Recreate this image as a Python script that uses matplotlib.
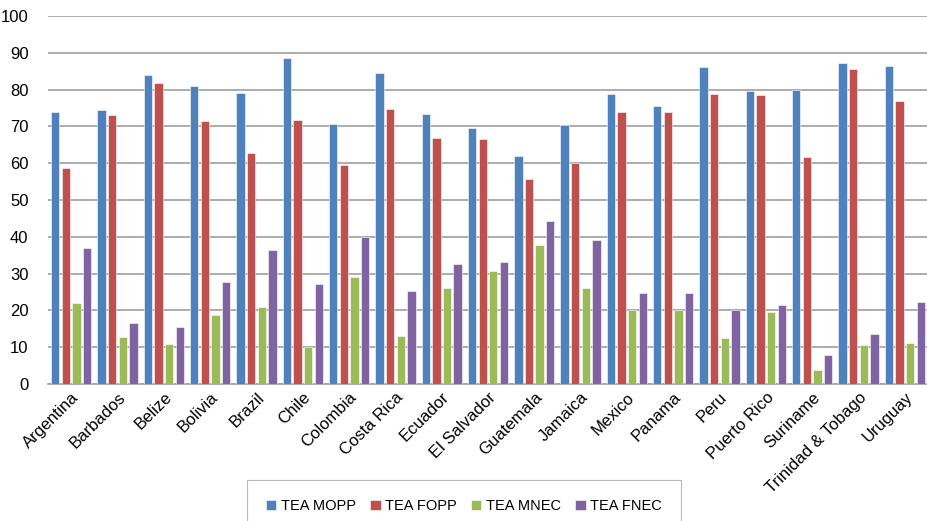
import numpy as np
import matplotlib
matplotlib.use('Agg')
import matplotlib.pyplot as plt

# data
countries = ['Argentina', 'Barbados', 'Belize', 'Bolivia', 'Brazil', 'Chile',
             'Colombia', 'Costa Rica', 'Ecuador', 'El Salvador', 'Guatemala',
             'Jamaica', 'Mexico', 'Panama', 'Peru', 'Puerto Rico', 'Suriname',
             'Trinidad & Tobago', 'Uruguay']
tea_mopp = [74.0, 74.5, 84.0, 81.0, 79.0, 88.7, 70.6, 84.4, 73.4, 69.5, 61.9,
            70.3, 78.8, 75.6, 86.1, 79.7, 80.0, 87.1, 86.5]
tea_fopp = [58.8, 73.2, 81.8, 71.6, 62.7, 71.7, 59.5, 74.6, 66.8, 66.5, 55.8,
            60.0, 73.8, 73.8, 78.9, 78.5, 61.8, 85.7, 77.0]
tea_mnec = [22.0, 12.8, 11.0, 18.8, 21.0, 10.0, 29.0, 13.0, 26.2, 30.7, 37.7,
            26.0, 20.2, 20.2, 12.6, 19.6, 3.9, 10.7, 11.2]
tea_fnec = [37.0, 16.7, 15.5, 27.6, 36.5, 27.1, 40.0, 25.4, 32.6, 33.1, 44.2,
            39.2, 24.7, 24.7, 20.2, 21.6, 8.0, 13.5, 22.2]
series_names = ['TEA MOPP', 'TEA FOPP', 'TEA MNEC', 'TEA FNEC']
colors = ['#4F81BD', '#C0504D', '#9BBB59', '#8064A2']

plt.rcParams['font.family'] = ['Liberation Sans', 'DejaVu Sans']

fig = plt.figure(figsize=(9.28, 5.21), dpi=100)
ax = fig.add_axes([48/928, 1-384/521, 880/928, 368/521])

x = np.arange(len(countries))
pitch = 0.23
width = 0.18
for i, (vals, name) in enumerate(zip([tea_mopp, tea_fopp, tea_mnec, tea_fnec], series_names)):
    ax.bar(x + (i - 1.5)*pitch, vals, width, color=colors[i], label=name,
           edgecolor='white', linewidth=0.4, zorder=3)

ax.set_xlim(-0.5, len(countries) - 0.5)
ax.set_ylim(0, 100)
ax.set_yticks(range(0, 101, 10))
ax.yaxis.grid(True, color='#a6a6a6', linewidth=1.3, zorder=0)
ax.tick_params(axis='y', length=0, labelsize=12, pad=14)
ax.tick_params(axis='x', length=0, labelsize=12, pad=4)
ax.set_xticks(x)
ax.set_xticklabels(countries, rotation=45, ha='right', rotation_mode='anchor')
for s in ['left', 'right', 'top']:
    ax.spines[s].set_visible(False)
ax.spines['bottom'].set_color('#a6a6a6')
ax.spines['bottom'].set_linewidth(1.3)

leg = fig.legend(loc='upper center', bbox_to_anchor=(0.5, 1-480/521), ncol=4,
                 frameon=True, fancybox=False, edgecolor='#a6a6a6', fontsize=10.5,
                 handlelength=0.7, handleheight=0.7, handletextpad=0.3,
                 columnspacing=1.0, borderpad=1.3, borderaxespad=0)
leg.get_frame().set_linewidth(0.8)

fig.savefig('out.png', dpi=100)
